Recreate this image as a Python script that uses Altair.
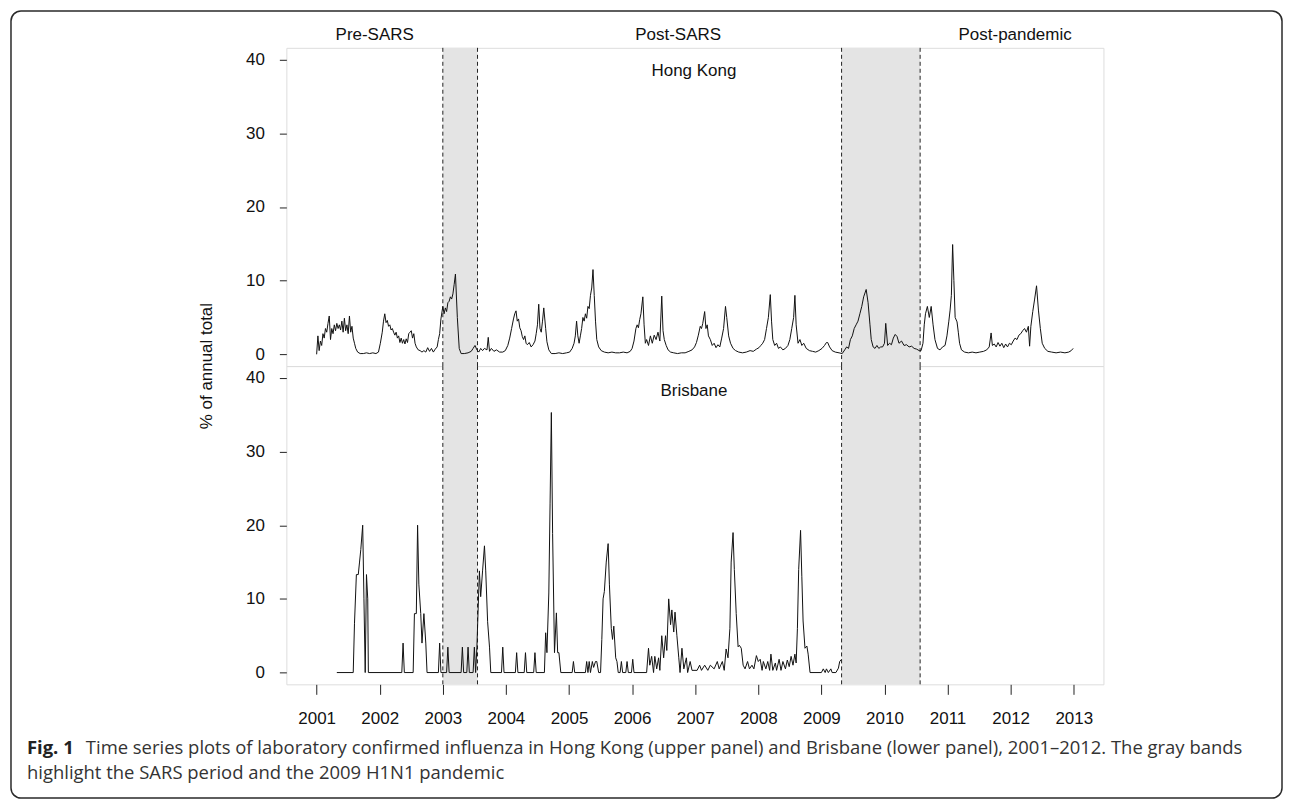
import altair as alt
import pandas as pd

# ---------------- data ----------------
hk_year = [2001.00, 2001.02, 2001.04, 2001.06, 2001.08, 2001.10, 2001.12, 2001.14, 2001.16, 2001.18,
           2001.20, 2001.22, 2001.24, 2001.26, 2001.28, 2001.30, 2001.32, 2001.34, 2001.36, 2001.38,
           2001.40, 2001.42, 2001.44, 2001.46, 2001.48, 2001.50, 2001.52, 2001.54, 2001.56, 2001.58,
           2001.60, 2001.62, 2001.65, 2001.69, 2001.74, 2001.79, 2001.84, 2001.89, 2001.94, 2001.98,
           2002.01, 2002.04, 2002.06, 2002.08, 2002.10, 2002.12, 2002.14, 2002.16, 2002.18, 2002.20,
           2002.22, 2002.24, 2002.26, 2002.28, 2002.30, 2002.32, 2002.34, 2002.36, 2002.38, 2002.40,
           2002.42, 2002.44, 2002.46, 2002.48, 2002.50, 2002.52, 2002.54, 2002.56, 2002.58, 2002.61,
           2002.64, 2002.67, 2002.70, 2002.73, 2002.76, 2002.79, 2002.82, 2002.85, 2002.88, 2002.91,
           2002.93, 2002.95, 2002.97, 2003.00, 2003.02, 2003.04, 2003.06, 2003.08, 2003.10, 2003.12,
           2003.14, 2003.16, 2003.18, 2003.20, 2003.23, 2003.26, 2003.29, 2003.34, 2003.40, 2003.45,
           2003.48, 2003.51, 2003.54, 2003.57, 2003.60, 2003.63, 2003.66, 2003.70, 2003.72, 2003.74,
           2003.77, 2003.81, 2003.85, 2003.90, 2003.95, 2003.99, 2004.03, 2004.06, 2004.09, 2004.12,
           2004.14, 2004.16, 2004.18, 2004.20, 2004.22, 2004.24, 2004.26, 2004.28, 2004.30, 2004.32,
           2004.34, 2004.37, 2004.40, 2004.43, 2004.46, 2004.48, 2004.50, 2004.52, 2004.54, 2004.56,
           2004.58, 2004.60, 2004.63, 2004.65, 2004.68, 2004.72, 2004.78, 2004.84, 2004.90, 2004.96,
           2005.01, 2005.05, 2005.08, 2005.10, 2005.12, 2005.14, 2005.16, 2005.18, 2005.20, 2005.22,
           2005.24, 2005.26, 2005.28, 2005.30, 2005.32, 2005.34, 2005.36, 2005.38, 2005.40, 2005.42,
           2005.44, 2005.47, 2005.51, 2005.56, 2005.62, 2005.68, 2005.74, 2005.80, 2005.86, 2005.92,
           2005.97, 2006.00, 2006.03, 2006.06, 2006.08, 2006.10, 2006.12, 2006.14, 2006.17, 2006.19,
           2006.21, 2006.23, 2006.26, 2006.29, 2006.32, 2006.35, 2006.38, 2006.41, 2006.44, 2006.47,
           2006.49, 2006.51, 2006.54, 2006.57, 2006.61, 2006.66, 2006.72, 2006.78, 2006.84, 2006.90,
           2006.95, 2006.99, 2007.02, 2007.05, 2007.08, 2007.10, 2007.12, 2007.15, 2007.17, 2007.19,
           2007.21, 2007.24, 2007.27, 2007.30, 2007.33, 2007.36, 2007.39, 2007.42, 2007.45, 2007.48,
           2007.50, 2007.53, 2007.56, 2007.60, 2007.64, 2007.69, 2007.75, 2007.81, 2007.87, 2007.92,
           2007.97, 2008.01, 2008.04, 2008.07, 2008.10, 2008.13, 2008.16, 2008.19, 2008.21, 2008.23,
           2008.26, 2008.29, 2008.32, 2008.35, 2008.39, 2008.43, 2008.47, 2008.50, 2008.53, 2008.56,
           2008.58, 2008.60, 2008.63, 2008.66, 2008.69, 2008.72, 2008.76, 2008.81, 2008.86, 2008.91,
           2008.96, 2009.01, 2009.05, 2009.08, 2009.10, 2009.13, 2009.17, 2009.22, 2009.28, 2009.33,
           2009.37, 2009.40, 2009.43, 2009.46, 2009.49, 2009.52, 2009.55, 2009.58, 2009.61, 2009.64,
           2009.67, 2009.71, 2009.74, 2009.77, 2009.79, 2009.82, 2009.85, 2009.88, 2009.91, 2009.94,
           2009.97, 2010.00, 2010.02, 2010.05, 2010.08, 2010.11, 2010.14, 2010.17, 2010.20, 2010.23,
           2010.27, 2010.31, 2010.35, 2010.39, 2010.43, 2010.47, 2010.51, 2010.55, 2010.58, 2010.61,
           2010.63, 2010.65, 2010.68, 2010.71, 2010.74, 2010.77, 2010.80, 2010.84, 2010.88, 2010.92,
           2010.96, 2010.99, 2011.02, 2011.04, 2011.06, 2011.08, 2011.10, 2011.12, 2011.15, 2011.17,
           2011.19, 2011.22, 2011.27, 2011.33, 2011.39, 2011.45, 2011.51, 2011.57, 2011.62, 2011.66,
           2011.69, 2011.71, 2011.74, 2011.77, 2011.80, 2011.83, 2011.86, 2011.89, 2011.92, 2011.95,
           2011.98, 2012.01, 2012.04, 2012.07, 2012.10, 2012.13, 2012.16, 2012.19, 2012.22, 2012.25,
           2012.28, 2012.30, 2012.32, 2012.35, 2012.38, 2012.41, 2012.44, 2012.47, 2012.50, 2012.54,
           2012.59, 2012.65, 2012.72, 2012.79, 2012.86, 2012.92, 2012.96, 2012.99]
hk_pct = [0.0, 2.5, 0.5, 1.8, 1.2, 2.8, 2.2, 3.5, 3.0, 4.2,
          5.2, 2.0, 3.5, 2.8, 4.0, 3.2, 4.2, 3.5, 4.0, 3.3,
          4.5, 3.0, 4.9, 3.2, 4.0, 2.8, 5.2, 3.0, 3.8, 2.2,
          1.5, 0.8, 0.3, 0.1, 0.1, 0.2, 0.1, 0.2, 0.1, 0.3,
          1.5, 3.0, 4.5, 5.5, 4.3, 4.6, 3.8, 4.0, 3.3, 3.5,
          3.0, 2.6, 3.0, 2.2, 2.5, 1.6, 2.2, 1.5, 2.0, 1.4,
          2.1, 1.6, 2.8, 3.0, 3.2, 2.2, 2.8, 1.5, 1.0, 0.6,
          0.5, 0.3, 0.5, 0.3, 0.9, 0.4, 0.8, 0.3, 0.7, 1.0,
          2.0, 2.8, 4.8, 6.5, 5.5, 6.3, 5.8, 7.0, 7.2, 7.8,
          7.5, 8.2, 9.5, 10.9, 5.0, 0.8, 0.1, 0.1, 0.2, 0.4,
          0.8, 1.2, 0.6, 0.3, 0.8, 0.5, 0.8, 0.6, 2.3, 0.4,
          0.8, 0.4, 0.6, 0.3, 0.3, 0.5, 1.2, 2.2, 3.5, 4.8,
          5.5, 5.9, 4.5, 4.8, 3.6, 3.2, 2.4, 2.0, 2.5, 1.5,
          1.3, 1.6, 1.0, 1.3, 1.8, 2.8, 4.0, 6.8, 3.5, 3.0,
          4.5, 6.3, 3.5, 1.7, 0.6, 0.1, 0.1, 0.2, 0.1, 0.2,
          0.3, 0.8, 1.5, 2.5, 4.5, 2.5, 1.5, 2.5, 3.5, 5.0,
          4.5, 5.5, 4.9, 6.5, 6.2, 8.0, 9.0, 11.5, 8.0, 4.5,
          2.0, 1.0, 0.5, 0.3, 0.2, 0.3, 0.2, 0.2, 0.3, 0.2,
          0.4, 0.8, 1.8, 3.5, 4.0, 3.6, 4.7, 5.5, 7.8, 4.0,
          1.5, 2.0, 1.2, 2.5, 1.5, 2.6, 2.0, 3.0, 1.8, 7.9,
          3.2, 2.0, 1.2, 0.6, 0.3, 0.2, 0.1, 0.2, 0.2, 0.4,
          0.6, 1.0, 1.6, 2.6, 3.8, 3.5, 4.2, 5.8, 3.5, 4.0,
          2.5, 2.0, 1.2, 1.5, 0.9, 1.3, 1.0, 2.2, 3.5, 6.5,
          5.0, 2.5, 1.5, 0.8, 0.5, 0.3, 0.2, 0.3, 0.5, 0.4,
          0.7, 0.9, 1.2, 1.5, 2.0, 3.5, 5.0, 8.1, 4.5, 2.0,
          1.2, 1.5, 0.8, 1.0, 0.6, 0.8, 1.2, 2.0, 3.5, 5.0,
          8.0, 4.0, 1.5, 2.0, 1.2, 1.5, 0.8, 0.5, 0.4, 0.3,
          0.5, 0.8, 1.2, 1.6, 1.6, 1.0, 0.5, 0.3, 0.2, 0.1,
          0.6, 1.0, 0.8, 2.0, 2.5, 3.5, 4.0, 4.5, 5.5, 6.5,
          7.8, 8.8, 7.0, 4.0, 2.0, 1.0, 0.8, 1.2, 0.8, 1.0,
          1.0, 1.5, 4.2, 1.2, 1.5, 1.3, 2.2, 2.7, 2.4, 1.5,
          1.8, 1.2, 1.3, 1.0, 1.1, 0.8, 0.7, 0.5, 0.5, 1.5,
          4.0, 5.5, 6.5, 5.0, 6.5, 4.0, 2.0, 0.8, 0.6, 1.0,
          1.2, 2.5, 4.5, 6.0, 8.0, 14.9, 10.0, 5.0, 4.4, 3.0,
          1.5, 0.6, 0.3, 0.2, 0.3, 0.2, 0.3, 0.4, 0.6, 1.0,
          2.9, 1.2, 1.4, 1.0, 1.6, 1.1, 1.5, 0.9, 1.4, 1.0,
          1.5, 1.3, 1.8, 2.2, 2.0, 2.6, 2.8, 3.2, 3.5, 3.0,
          3.8, 1.1, 3.8, 5.8, 7.5, 9.3, 6.0, 3.5, 1.5, 0.8,
          0.4, 0.3, 0.2, 0.3, 0.2, 0.3, 0.5, 0.8]

bne_year = [2001.32, 2001.58, 2001.60, 2001.63, 2001.66, 2001.68, 2001.70, 2001.73, 2001.75, 2001.77,
            2001.79, 2001.81, 2001.82, 2002.35, 2002.37, 2002.39, 2002.53, 2002.55, 2002.58, 2002.60,
            2002.62, 2002.65, 2002.67, 2002.70, 2002.73, 2002.75, 2002.93, 2002.95, 2002.97, 2003.06,
            2003.08, 2003.10, 2003.29, 2003.31, 2003.33, 2003.38, 2003.40, 2003.42, 2003.48, 2003.50,
            2003.52, 2003.54, 2003.58, 2003.60, 2003.63, 2003.66, 2003.68, 2003.71, 2003.74, 2003.76,
            2003.93, 2003.95, 2003.97, 2004.15, 2004.17, 2004.19, 2004.29, 2004.31, 2004.33, 2004.44,
            2004.46, 2004.48, 2004.61, 2004.63, 2004.65, 2004.68, 2004.70, 2004.72, 2004.74, 2004.77,
            2004.80, 2004.82, 2004.84, 2004.87, 2005.05, 2005.07, 2005.09, 2005.26, 2005.28, 2005.30,
            2005.32, 2005.34, 2005.37, 2005.39, 2005.42, 2005.44, 2005.47, 2005.50, 2005.52, 2005.54,
            2005.56, 2005.59, 2005.62, 2005.64, 2005.67, 2005.69, 2005.71, 2005.74, 2005.76, 2005.78,
            2005.81, 2005.83, 2005.85, 2005.90, 2005.92, 2005.94, 2005.99, 2006.01, 2006.03, 2006.23,
            2006.26, 2006.28, 2006.31, 2006.34, 2006.36, 2006.39, 2006.42, 2006.44, 2006.47, 2006.50,
            2006.53, 2006.55, 2006.58, 2006.61, 2006.63, 2006.66, 2006.68, 2006.71, 2006.74, 2006.76,
            2006.79, 2006.82, 2006.86, 2006.88, 2006.92, 2006.95, 2007.03, 2007.07, 2007.10, 2007.15,
            2007.20, 2007.24, 2007.30, 2007.35, 2007.38, 2007.43, 2007.46, 2007.49, 2007.52, 2007.55,
            2007.57, 2007.60, 2007.62, 2007.65, 2007.68, 2007.70, 2007.73, 2007.76, 2007.79, 2007.83,
            2007.86, 2007.90, 2007.93, 2007.97, 2008.00, 2008.03, 2008.06, 2008.08, 2008.12, 2008.15,
            2008.18, 2008.20, 2008.23, 2008.27, 2008.29, 2008.33, 2008.36, 2008.39, 2008.43, 2008.46,
            2008.49, 2008.52, 2008.55, 2008.58, 2008.60, 2008.62, 2008.64, 2008.67, 2008.69, 2008.71,
            2008.74, 2008.77, 2008.79, 2008.82, 2009.00, 2009.03, 2009.06, 2009.08, 2009.11, 2009.15,
            2009.17, 2009.23, 2009.27, 2009.29, 2009.32]
bne_pct = [0.0, 0.0, 6.7, 13.3, 13.3, 15.0, 16.7, 20.0, 10.0, 0.0,
           13.3, 10.0, 0.0, 0.0, 4.0, 0.0, 0.0, 8.0, 8.0, 20.0,
           12.0, 8.0, 4.0, 8.0, 4.0, 0.0, 0.0, 4.0, 0.0, 0.0,
           3.45, 0.0, 0.0, 3.45, 0.0, 0.0, 3.45, 0.0, 0.0, 3.45,
           0.0, 3.45, 13.8, 10.3, 13.8, 17.2, 13.8, 6.9, 3.45, 0.0,
           0.0, 3.45, 0.0, 0.0, 2.7, 0.0, 0.0, 2.7, 0.0, 0.0,
           2.7, 0.0, 0.0, 5.4, 2.7, 10.8, 23.0, 35.3, 18.9, 2.7,
           8.1, 2.7, 2.7, 0.0, 0.0, 1.5, 0.0, 0.0, 1.5, 0.0,
           1.5, 0.0, 1.5, 0.7, 1.5, 1.5, 0.0, 0.0, 4.5, 10.0,
           11.0, 15.0, 17.5, 12.0, 6.0, 4.5, 6.3, 2.0, 1.5, 0.0,
           0.0, 1.5, 0.0, 0.0, 1.5, 0.0, 0.0, 1.8, 0.0, 0.0,
           3.3, 1.0, 2.2, 0.0, 2.2, 0.5, 2.0, 0.3, 5.0, 2.0,
           5.0, 3.0, 10.0, 6.5, 8.5, 5.5, 8.2, 5.0, 2.0, 0.0,
           3.3, 0.5, 2.0, 0.0, 1.5, 0.3, 0.3, 1.0, 0.3, 1.0,
           0.3, 1.0, 0.5, 1.5, 0.5, 1.5, 0.3, 3.2, 2.0, 6.0,
           15.0, 19.0, 14.0, 8.0, 3.5, 3.7, 3.3, 1.0, 0.5, 1.5,
           0.5, 1.0, 0.5, 2.3, 1.5, 1.8, 0.3, 1.5, 0.5, 1.5,
           0.3, 2.5, 0.3, 1.3, 0.3, 1.8, 0.3, 1.5, 0.5, 1.7,
           0.8, 2.2, 1.0, 2.5, 1.3, 6.0, 14.0, 19.3, 13.0, 7.0,
           3.3, 3.6, 2.5, 0.0, 0.0, 0.5, 0.0, 0.5, 0.0, 0.5,
           0.0, 0.0, 0.6, 1.5, 1.8]

band_start = [2003.0, 2009.32]
band_end = [2003.55, 2010.565]
period_names = ["Pre-SARS", "Post-SARS", "Post-pandemic"]
period_x = [2001.92, 2006.73, 2012.07]
period_y = [43.3, 43.3, 43.3]
city_names = ["Hong Kong", "Brisbane"]
city_x = [2006.98, 2006.98]
city_y = [38.5, 38.2]
year_ticks = list(range(2001, 2014))
pct_ticks = [0, 10, 20, 30, 40]
y_title = "% of annual total"
caption_bold = "Fig. 1"
caption_line1 = ("Time series plots of laboratory confirmed influenza in Hong Kong (upper panel) "
                 "and Brisbane (lower panel), 2001\u20132012. The gray bands")
caption_line2 = "highlight the SARS period and the 2009 H1N1 pandemic"

# ---------------- chart ----------------
W, H = 819, 319
FONT = "Liberation Sans"
CAP_FONT = "Open Sans"
CAP_SIZE = 18.5
INK = "#111111"

xs = alt.Scale(domain=[2000.52, 2013.47], nice=False, zero=False)
ys = alt.Scale(domain=[-1.6, 41.6], nice=False, zero=False)

y_axis = alt.Axis(values=pct_ticks, grid=False, domain=False, tickSize=7, tickColor="#222",
                  labelPadding=15, labelFontSize=17, labelFont=FONT, labelColor=INK, title=None)
x_axis_bottom = alt.Axis(values=year_ticks, format="d", grid=False, domain=False, tickSize=10,
                         tickColor="#222", labelPadding=16, labelFontSize=17, labelFont=FONT,
                         labelColor=INK, title=None, labelFlush=False)

bands_df = pd.DataFrame({"start": band_start, "end": band_end})
edges_df = pd.DataFrame({"edge": band_start + band_end})
one = pd.DataFrame({"k": [0]})


def panel(df, city_idx, x_axis, extra):
    bands = alt.Chart(bands_df).mark_rect(color="#e4e4e4").encode(
        x=alt.X("start:Q", scale=xs, axis=x_axis), x2="end:Q")
    edges = alt.Chart(edges_df).mark_rule(color="#222", strokeWidth=1, strokeDash=[4, 3]).encode(
        x=alt.X("edge:Q", scale=xs, axis=x_axis))
    line = alt.Chart(df).mark_line(color=INK, strokeWidth=1).encode(
        x=alt.X("year:Q", scale=xs, axis=x_axis),
        y=alt.Y("pct:Q", scale=ys, axis=y_axis))
    lab_df = pd.DataFrame({"x": [city_x[city_idx]], "y": [city_y[city_idx]],
                           "label": [city_names[city_idx]]})
    label = alt.Chart(lab_df).mark_text(font=FONT, fontSize=17, color=INK).encode(
        x=alt.X("x:Q", scale=xs, axis=x_axis), y=alt.Y("y:Q", scale=ys, axis=y_axis),
        text="label:N")
    return alt.layer(bands, edges, line, label, *extra).properties(width=W, height=H)


hk_df = pd.DataFrame({"year": hk_year, "pct": hk_pct})
bne_df = pd.DataFrame({"year": bne_year, "pct": bne_pct})

periods_df = pd.DataFrame({"x": period_x, "y": period_y, "label": period_names})
periods = alt.Chart(periods_df).mark_text(font=FONT, fontSize=17, color=INK).encode(
    x=alt.X("x:Q", scale=xs, axis=None), y=alt.Y("y:Q", scale=ys, axis=y_axis), text="label:N")

ytitle = alt.Chart(one).mark_text(text=y_title, angle=270, font=FONT, fontSize=17, color=INK,
                                  align="center", baseline="middle").encode(
    x=alt.value(-80), y=alt.value(H))

border = alt.Chart(one).mark_rect(filled=False, stroke="#2a2a2a", strokeWidth=1.5,
                                  cornerRadius=10).encode(
    x=alt.value(-276), x2=alt.value(998), y=alt.value(-37), y2=alt.value(752))

cap_bold = alt.Chart(one).mark_text(text=caption_bold, font=CAP_FONT, fontSize=CAP_SIZE,
                                    fontWeight="bold", color="#222", align="left",
                                    baseline="alphabetic").encode(
    x=alt.value(-260), y=alt.value(389))
cap_l1 = alt.Chart(one).mark_text(text=caption_line1, font=CAP_FONT, fontSize=CAP_SIZE,
                                  color="#333", align="left", baseline="alphabetic").encode(
    x=alt.value(-201), y=alt.value(389))
cap_l2 = alt.Chart(one).mark_text(text=caption_line2, font=CAP_FONT, fontSize=CAP_SIZE,
                                  color="#333", align="left", baseline="alphabetic").encode(
    x=alt.value(-260), y=alt.value(414))

top = panel(hk_df, 0, None, [periods, ytitle, border])
bottom = panel(bne_df, 1, x_axis_bottom, [cap_bold, cap_l1, cap_l2])

chart = alt.vconcat(top, bottom, spacing=0, bounds="flush").properties(
    padding={"left": 1, "top": 0, "right": 0, "bottom": 0}
).configure_view(stroke="#333", strokeWidth=1.2).configure(background="white")

chart.save("out.html", embed_options={"renderer": "svg", "actions": False})
